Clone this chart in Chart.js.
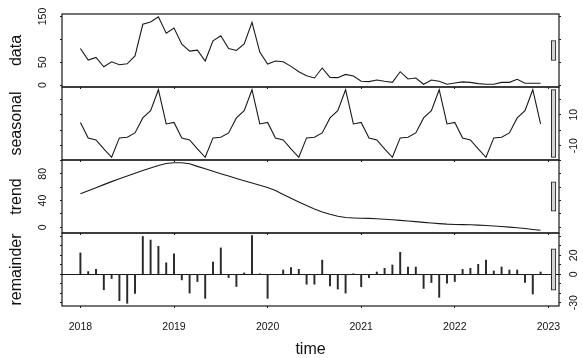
<!DOCTYPE html>
<html><head><meta charset="utf-8">
<script src="https://cdn.jsdelivr.net/npm/chart.js@4.4.1/dist/chart.umd.min.js"></script>
<style>
html,body{margin:0;padding:0;background:#fff;}
#wrap{position:relative;width:583px;height:358px;overflow:hidden;background:#fff;}
canvas{position:absolute;left:0;}
</style></head><body><div id="wrap"></div>
<script>
// ---------------- data ----------------
const startYear = 2018;
const frequency = 12;
const panelNames = ['data', 'seasonal', 'trend', 'remainder'];
const xAxisTitle = 'time';

const dataValues = [80, 54.8, 60.4, 40.2, 51, 44.6, 46.7, 64, 133, 138, 149.6, 113.4,
  125, 89.5, 74.3, 76.4, 52.6, 96.7, 108, 80, 75.7, 90.2, 137.4, 72.2,
  46, 52.6, 51, 41, 29.3, 20.6, 15.6, 37.4, 17, 16.3, 23.5, 20,
  8.3, 7.6, 11.3, 8.3, 6.1, 29.3, 13.4, 15.6, 1.8, 11.3, 8.3, 1.8,
  4.7, 7, 6, 3.3, 1.8, 1.8, 6, 6, 12.7, 4, 4, 4];

const seasonalValues = [5, -5, -6.3, -12.1, -17.5, -5, -4.6, -1.8, 7.9, 12.6, 26.1, 4,
  5, -5, -6.3, -12.1, -17.5, -5, -4.6, -1.8, 7.9, 12.6, 26.1, 4,
  5, -5, -6.3, -12.1, -17.5, -5, -4.6, -1.8, 7.9, 12.6, 26.1, 4,
  5, -5, -6.3, -12.1, -17.5, -5, -4.6, -1.8, 7.9, 12.6, 26.1, 4,
  5, -5, -6.3, -12.1, -17.5, -5, -4.6, -1.8, 7.9, 12.6, 26.1, 4];

const trendValues = [50.3, 54.8, 59.3, 63.8, 68.3, 72.5, 76.6, 80.7, 84.8, 88.8, 92.5, 95.3,
  96.6, 96.6, 95, 91.1, 87.5, 83.8, 80.2, 76.6, 73, 69.6, 66.3, 63,
  59.5, 55, 49, 43.5, 38, 32.5, 27.5, 23, 19.5, 16.5, 14.6, 14,
  13.6, 13.3, 12.8, 12.1, 11.3, 10.4, 9.4, 8.4, 7.4, 6.4, 5.5, 4.7,
  4.2, 4, 3.8, 3.3, 2.7, 2, 1.2, 0.3, -0.7, -1.9, -3.2, -4.5];

const remainderValues = [22.6, 2.8, 5.2, -16.4, -4.5, -27.9, -30.7, -20.2, 40, 36.2, 29.6, 12.2,
  21.6, -5.9, -19.9, -7.7, -25.4, 12.9, 27.9, -3.5, -12.9, 1.4, 40.8, 0.3,
  -25.4, -0.3, 4.5, 7, 5.2, -10.5, -10.5, 15, -12.2, -15.7, -19.9, 0.5,
  -13.2, -3.5, 2.4, 6.3, 9.8, 23.3, 7.7, 7.7, -15, -8.7, -24.4, -9.4,
  -7.7, 5.2, 6.3, 10.5, 15, 3.5, 7.7, 4.5, 4.5, -8.7, -20.9, 2.4];

// tick values and labels
const xTicks = [2018, 2019, 2020, 2021, 2022, 2023];
const dataTicks = [0, 50, 100, 150];
const dataTickLabels = ['0', '50', '', '150'];
const seasonalTicks = [-10, 0, 10, 20];
const seasonalTickLabels = ['-10', '', '10', ''];
const trendTicks = [0, 20, 40, 60, 80, 100];
const trendTickLabels = ['0', '', '40', '', '80', ''];
const remainderTicks = [-30, -20, -10, 0, 10, 20, 30, 40];
const remainderTickLabels = ['-30', '', '', '0', '', '20', '', ''];

// ---------------- layout (style) ----------------
const W = 583, H = 358;
const PLOT_LEFT = 62, PLOT_RIGHT = 559;
const PANEL_TOP = 14, PANEL_H = 73, PAD = 12;
const INK = '#1a1a1a';
const FONT = '"Liberation Sans", Arial, Helvetica, sans-serif';
Chart.defaults.font.family = FONT;
Chart.defaults.color = '#111';

const time = dataValues.map((_, i) => startYear + i / frequency);

function extRange(arr) {
  const mn = Math.min(...arr), mx = Math.max(...arr), r = mx - mn;
  return { min: mn - 0.04 * r, max: mx + 0.04 * r, lo: mn, hi: mx };
}
const xr = extRange(time);
const series = [dataValues, seasonalValues, trendValues, remainderValues];
const ranges = series.map(extRange);
const minSpan = Math.min(...ranges.map(r => r.hi - r.lo));
const dxVal = (xr.max - xr.min) / 64;
const rangeBarX = xr.max - 0.7 * dxVal;
const rangeBarPx = 0.6 * (PLOT_RIGHT - PLOT_LEFT) / 64;

const boxPlugin = {
  id: 'box',
  afterDraw(chart) {
    const { ctx, chartArea: ca } = chart;
    ctx.save();
    ctx.strokeStyle = INK;
    ctx.lineWidth = 1.2;
    ctx.strokeRect(ca.left, ca.top, ca.right - ca.left, ca.bottom - ca.top);
    ctx.restore();
  }
};
const rotLabelPlugin = {
  id: 'rotLabels',
  afterDraw(chart, args, opts) {
    const sc = chart.scales.y, ctx = chart.ctx, ca = chart.chartArea;
    ctx.save();
    ctx.fillStyle = '#111';
    ctx.font = '10.5px ' + FONT;
    ctx.textAlign = 'center';
    ctx.textBaseline = 'middle';
    opts.ticks.forEach((v, i) => {
      const lab = opts.labels[i];
      if (!lab) return;
      const y = sc.getPixelForValue(v);
      const x = opts.side === 'left' ? ca.left - 19 : ca.right + 15;
      ctx.save();
      ctx.translate(x, y);
      ctx.rotate(-Math.PI / 2);
      ctx.fillText(lab, 0, 0);
      ctx.restore();
    });
    ctx.restore();
  }
};

const tickSets = [
  [dataTicks, dataTickLabels, 'left'],
  [seasonalTicks, seasonalTickLabels, 'right'],
  [trendTicks, trendTickLabels, 'left'],
  [remainderTicks, remainderTickLabels, 'right']
];

const wrap = document.getElementById('wrap');

panelNames.forEach((name, idx) => {
  const last = idx === panelNames.length - 1;
  const top = PANEL_TOP + idx * PANEL_H - PAD;
  const ch = last ? H - top : PANEL_H + 2 * PAD;
  const canvas = document.createElement('canvas');
  canvas.width = W; canvas.height = ch;
  canvas.style.width = W + 'px'; canvas.style.height = ch + 'px';
  canvas.style.top = top + 'px';
  wrap.appendChild(canvas);

  const vals = series[idx];
  const yr = ranges[idx];
  const [tv, tl, side] = tickSets[idx];
  const center = (yr.lo + yr.hi) / 2;

  const mainDs = last ? {
    type: 'bar',
    data: time.map((t, i) => ({ x: t, y: vals[i] })),
    backgroundColor: '#2a2a2a',
    borderWidth: 0,
    barThickness: 1.3,
    grouped: false,
    yAxisID: 'y'
  } : {
    type: 'line',
    data: time.map((t, i) => ({ x: t, y: vals[i] })),
    borderColor: INK,
    borderWidth: 1.1,
    pointRadius: 0,
    tension: 0,
    fill: false,
    yAxisID: 'y'
  };
  const rangeDs = {
    type: 'bar',
    data: [{ x: rangeBarX, y: [center - minSpan / 2, center + minSpan / 2] }],
    backgroundColor: '#d3d3d3',
    borderColor: INK,
    borderWidth: 1,
    borderSkipped: false,
    barThickness: rangeBarPx,
    grouped: false,
    yAxisID: 'y'
  };

  const setTicks = (vlist) => (ax) => { ax.ticks = vlist.map(v => ({ value: v })); };

  new Chart(canvas, {
    type: last ? 'bar' : 'line',
    data: { datasets: [mainDs, rangeDs] },
    plugins: [boxPlugin, rotLabelPlugin],
    options: {
      responsive: false,
      animation: false,
      devicePixelRatio: 1,
      layout: { padding: { top: PAD, bottom: 0, left: 0, right: 0 } },
      plugins: {
        legend: { display: false },
        tooltip: { enabled: false },
        rotLabels: { ticks: tv, labels: tl, side: side }
      },
      scales: {
        x: {
          type: 'linear',
          min: xr.min, max: xr.max,
          offset: false,
          position: 'bottom',
          afterBuildTicks: setTicks(xTicks),
          afterFit: (ax) => { ax.height = last ? (ch - PAD - PANEL_H) : PAD; },
          ticks: {
            display: last,
            autoSkip: false,
            maxRotation: 0,
            padding: 13,
            font: { size: 10.5, family: FONT },
            color: '#111',
            callback: (v, i) => String(xTicks[i])
          },
          grid: { drawOnChartArea: false, drawTicks: true, tickLength: 2, color: INK, offset: false },
          border: { display: false },
          title: {
            display: last,
            text: xAxisTitle,
            font: { size: 16, family: FONT, lineHeight: 1 },
            color: '#111',
            padding: { top: 0, bottom: 0 }
          }
        },
        y: {
          type: 'linear',
          position: 'left',
          min: yr.min, max: yr.max,
          afterBuildTicks: setTicks(tv),
          afterFit: (ax) => { ax.width = PLOT_LEFT; },
          ticks: { display: false },
          grid: { drawOnChartArea: false, drawTicks: true, tickLength: 2, color: INK },
          border: { display: false },
          title: {
            display: true,
            text: name,
            font: { size: 16, family: FONT, lineHeight: 1 },
            color: '#111',
            padding: { top: 8.5, bottom: 0 }
          }
        },
        y2: {
          type: 'linear',
          position: 'right',
          min: yr.min, max: yr.max,
          afterBuildTicks: setTicks(tv),
          afterFit: (ax) => { ax.width = W - PLOT_RIGHT; },
          ticks: { display: false },
          grid: {
            drawOnChartArea: last,
            drawTicks: true,
            tickLength: 2,
            lineWidth: 1.1,
            color: (c) => (last && c.tick && c.tick.value === 0) ? INK : 'rgba(0,0,0,0)',
            tickColor: INK
          },
          border: { display: false }
        }
      }
    }
  });
});
</script>
</body></html>
